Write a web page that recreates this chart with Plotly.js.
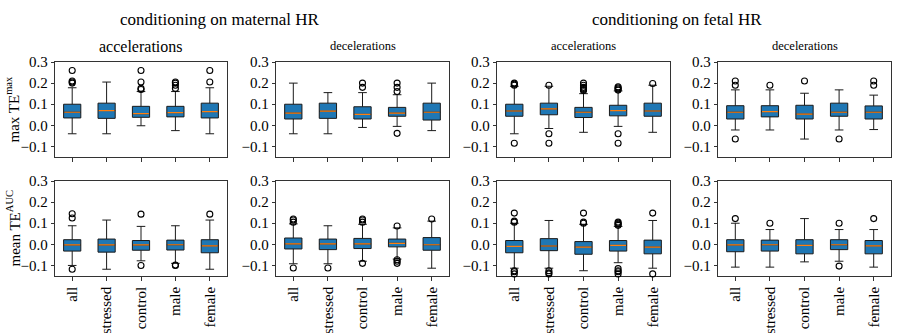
<!DOCTYPE html>
<html>
<head>
<meta charset="utf-8">
<script src="https://cdn.plot.ly/plotly-3.0.1.min.js"></script>
<style>
  html, body { margin: 0; padding: 0; background: #fff; }
  #chart { width: 897px; height: 333px; }
</style>
</head>
<body>
<div id="chart"></div>
<script>
const groups = ['all', 'stressed', 'control', 'male', 'female'];
const yTicks = [-0.1, 0.0, 0.1, 0.2, 0.3];

// top row: max TE^max
// maternal HR, accelerations
const matAccMaxLo  = [-0.040, -0.040, -0.002, -0.025, -0.040];
const matAccMaxQ1  = [0.035, 0.033, 0.038, 0.040, 0.035];
const matAccMaxMed = [0.062, 0.070, 0.055, 0.060, 0.065];
const matAccMaxQ3  = [0.100, 0.105, 0.090, 0.090, 0.105];
const matAccMaxHi  = [0.178, 0.205, 0.160, 0.160, 0.178];
const matAccMaxOut = [[0.200, 0.205, 0.210, 0.260], [], [0.170, 0.175, 0.205, 0.260], [0.175, 0.190, 0.200, 0.205], [0.205, 0.260]];

// maternal HR, decelerations
const matDecMaxLo  = [-0.040, -0.040, -0.010, -0.005, -0.025];
const matDecMaxQ1  = [0.030, 0.033, 0.030, 0.043, 0.025];
const matDecMaxMed = [0.058, 0.067, 0.052, 0.058, 0.062];
const matDecMaxQ3  = [0.100, 0.105, 0.088, 0.085, 0.105];
const matDecMaxHi  = [0.200, 0.155, 0.155, 0.145, 0.200];
const matDecMaxOut = [[], [], [0.180, 0.200], [0.160, 0.180, 0.200, -0.038], []];

// fetal HR, accelerations
const fetAccMaxLo  = [-0.040, -0.015, -0.033, -0.005, -0.033];
const fetAccMaxQ1  = [0.043, 0.050, 0.037, 0.045, 0.043];
const fetAccMaxMed = [0.068, 0.078, 0.062, 0.070, 0.068];
const fetAccMaxQ3  = [0.100, 0.105, 0.085, 0.095, 0.105];
const fetAccMaxHi  = [0.185, 0.185, 0.150, 0.163, 0.190];
const fetAccMaxOut = [[0.190, 0.195, 0.200, -0.085], [0.190, -0.040, -0.085], [0.165, 0.170, 0.175, 0.180, 0.190, 0.200], [0.167, 0.172, 0.177, 0.182, -0.040, -0.085], [0.198]];

// fetal HR, decelerations
const fetDecMaxLo  = [-0.022, -0.022, -0.065, -0.022, -0.020];
const fetDecMaxQ1  = [0.030, 0.040, 0.030, 0.043, 0.030];
const fetDecMaxMed = [0.062, 0.065, 0.053, 0.062, 0.062];
const fetDecMaxQ3  = [0.093, 0.093, 0.095, 0.105, 0.092];
const fetDecMaxHi  = [0.168, 0.168, 0.152, 0.168, 0.143];
const fetDecMaxOut = [[0.190, 0.210, -0.065], [0.190], [0.210], [-0.065], [0.190, 0.210]];

// bottom row: mean TE^AUC
const matAccAucLo  = [-0.100, -0.118, -0.078, -0.090, -0.118];
const matAccAucQ1  = [-0.032, -0.037, -0.028, -0.027, -0.040];
const matAccAucMed = [-0.003, -0.003, -0.003, -0.002, -0.007];
const matAccAucQ3  = [0.022, 0.025, 0.018, 0.020, 0.022];
const matAccAucHi  = [0.088, 0.115, 0.085, 0.088, 0.115];
const matAccAucOut = [[0.125, 0.145, -0.118], [], [0.143, -0.100], [-0.098, -0.100], [0.143]];

const matDecAucLo  = [-0.092, -0.092, -0.080, -0.070, -0.113];
const matDecAucQ1  = [-0.022, -0.025, -0.020, -0.012, -0.028];
const matDecAucMed = [0.002, 0.002, 0.002, 0.005, -0.002];
const matDecAucQ3  = [0.030, 0.025, 0.028, 0.025, 0.032];
const matDecAucHi  = [0.097, 0.088, 0.095, 0.078, 0.110];
const matDecAucOut = [[0.105, 0.115, 0.120, -0.112], [-0.112], [0.105, 0.115, 0.120, -0.090], [0.087, -0.073, -0.080, -0.090], [0.120]];

const fetAccAucLo  = [-0.113, -0.113, -0.125, -0.087, -0.113];
const fetAccAucQ1  = [-0.040, -0.030, -0.047, -0.032, -0.045];
const fetAccAucMed = [-0.010, -0.008, -0.013, -0.005, -0.013];
const fetAccAucQ3  = [0.018, 0.027, 0.013, 0.018, 0.020];
const fetAccAucHi  = [0.100, 0.113, 0.095, 0.085, 0.113];
const fetAccAucOut = [[0.105, 0.110, 0.148, -0.125, -0.130, -0.140], [-0.125, -0.135, -0.140], [0.100, 0.105, 0.148], [0.090, 0.095, 0.100, 0.105, -0.115, -0.125, -0.130, -0.140], [0.148, -0.140]];

const fetDecAucLo  = [-0.108, -0.108, -0.083, -0.080, -0.108];
const fetDecAucQ1  = [-0.035, -0.032, -0.045, -0.025, -0.045];
const fetDecAucMed = [-0.003, -0.002, -0.005, -0.002, -0.007];
const fetDecAucQ3  = [0.022, 0.020, 0.022, 0.022, 0.018];
const fetDecAucHi  = [0.100, 0.070, 0.122, 0.070, 0.070];
const fetDecAucOut = [[0.122], [0.100], [], [0.100, -0.103], [0.122]];

const panels = [
    [matAccMaxLo, matAccMaxQ1, matAccMaxMed, matAccMaxQ3, matAccMaxHi, matAccMaxOut],
    [matDecMaxLo, matDecMaxQ1, matDecMaxMed, matDecMaxQ3, matDecMaxHi, matDecMaxOut],
    [fetAccMaxLo, fetAccMaxQ1, fetAccMaxMed, fetAccMaxQ3, fetAccMaxHi, fetAccMaxOut],
    [fetDecMaxLo, fetDecMaxQ1, fetDecMaxMed, fetDecMaxQ3, fetDecMaxHi, fetDecMaxOut],
    [matAccAucLo, matAccAucQ1, matAccAucMed, matAccAucQ3, matAccAucHi, matAccAucOut],
    [matDecAucLo, matDecAucQ1, matDecAucMed, matDecAucQ3, matDecAucHi, matDecAucOut],
    [fetAccAucLo, fetAccAucQ1, fetAccAucMed, fetAccAucQ3, fetAccAucHi, fetAccAucOut],
    [fetDecAucLo, fetDecAucQ1, fetDecAucMed, fetDecAucQ3, fetDecAucHi, fetDecAucOut]
];

const W = 897, H = 333;
const colPx = [[55, 227], [276, 449], [497, 670], [718, 891]];
const rowPx = [[62, 157], [181, 276]];
const serif = '"Liberation Serif", "DejaVu Serif", serif';

const traces = [];
const layout = {
    width: W, height: H,
    margin: {l: 0, r: 0, t: 0, b: 0},
    paper_bgcolor: '#fff', plot_bgcolor: '#fff',
    showlegend: false,
    boxmode: 'overlay',
    font: {family: serif, size: 13, color: '#000'},
    annotations: []
};

panels.forEach(function(p, i) {
    const n = i + 1;
    const row = Math.floor(i / 4), col = i % 4;
    const xa = 'x' + (n === 1 ? '' : n), ya = 'y' + (n === 1 ? '' : n);

    traces.push({
        type: 'box', x: groups, xaxis: xa, yaxis: ya,
        lowerfence: p[0], q1: p[1], median: p[2], q3: p[3], upperfence: p[4],
        fillcolor: '#1f77b4', line: {color: '#1a1a1a', width: 1},
        width: 0.5, whiskerwidth: 0.5, boxpoints: false, hoverinfo: 'skip'
    });
    // orange median line drawn as a flat box over the first
    traces.push({
        type: 'box', x: groups, xaxis: xa, yaxis: ya,
        lowerfence: p[2], q1: p[2], median: p[2], q3: p[2], upperfence: p[2],
        fillcolor: 'rgba(0,0,0,0)', line: {color: '#ff7f0e', width: 1.2},
        width: 0.46, whiskerwidth: 0, boxpoints: false, hoverinfo: 'skip'
    });
    const ox = [], oy = [];
    p[5].forEach(function(vals, k) {
        vals.forEach(function(v) { ox.push(groups[k]); oy.push(v); });
    });
    traces.push({
        type: 'scatter', mode: 'markers', x: ox, y: oy, xaxis: xa, yaxis: ya,
        marker: {symbol: 'circle-open', size: 6, color: '#000', line: {width: 1.1, color: '#000'}},
        hoverinfo: 'skip', cliponaxis: false
    });

    layout['xaxis' + (n === 1 ? '' : n)] = {
        domain: [colPx[col][0] / W, colPx[col][1] / W],
        anchor: ya,
        type: 'category',
        range: [-0.5, 4.5],
        showline: true, mirror: true, linecolor: '#000', linewidth: 0.8,
        ticks: 'outside', ticklen: 4, tickwidth: 0.8, tickcolor: '#000',
        showgrid: false, zeroline: false,
        showticklabels: row === 1, tickangle: -90,
        tickfont: {family: serif, size: 15, color: '#000'}
    };
    layout['yaxis' + (n === 1 ? '' : n)] = {
        domain: [1 - rowPx[row][1] / H, 1 - rowPx[row][0] / H],
        anchor: xa,
        range: [-0.15, 0.3],
        tickvals: yTicks, tickformat: '.1f',
        showline: true, mirror: true, linecolor: '#000', linewidth: 0.8,
        ticks: 'outside', ticklen: 3.5, tickwidth: 0.8, tickcolor: '#000',
        showgrid: false, zeroline: false,
        tickfont: {family: serif, size: 15, color: '#000'}
    };
});

const colTitles = ['accelerations', 'decelerations', 'accelerations', 'decelerations'];
const colTitleSize = [16, 12.5, 12.5, 12.5];
colTitles.forEach(function(t, c) {
    layout.annotations.push({
        text: t, xref: 'paper', yref: 'paper',
        x: (colPx[c][0] + colPx[c][1]) / 2 / W, y: 1 - 46 / H,
        xanchor: 'center', yanchor: 'middle', showarrow: false,
        font: {family: serif, size: colTitleSize[c], color: '#000'}
    });
});

const superTitles = ['conditioning on maternal HR', 'conditioning on fetal HR'];
const superX = [219, 677];
superTitles.forEach(function(t, k) {
    layout.annotations.push({
        text: t, xref: 'paper', yref: 'paper',
        x: superX[k] / W, y: 1 - 20 / H,
        xanchor: 'center', yanchor: 'middle', showarrow: false,
        font: {family: serif, size: 17, color: '#000'}
    });
});

const rowTitles = ['max TE<sup>max</sup>', 'mean TE<sup>AUC</sup>'];
rowTitles.forEach(function(t, r) {
    layout.annotations.push({
        text: t, xref: 'paper', yref: 'paper',
        x: 13 / W, y: 1 - (rowPx[r][0] + rowPx[r][1]) / 2 / H,
        xanchor: 'center', yanchor: 'middle', showarrow: false, textangle: -90,
        font: {family: serif, size: 15, color: '#000'}
    });
});

Plotly.newPlot('chart', traces, layout, {staticPlot: true});
</script>
</body>
</html>
